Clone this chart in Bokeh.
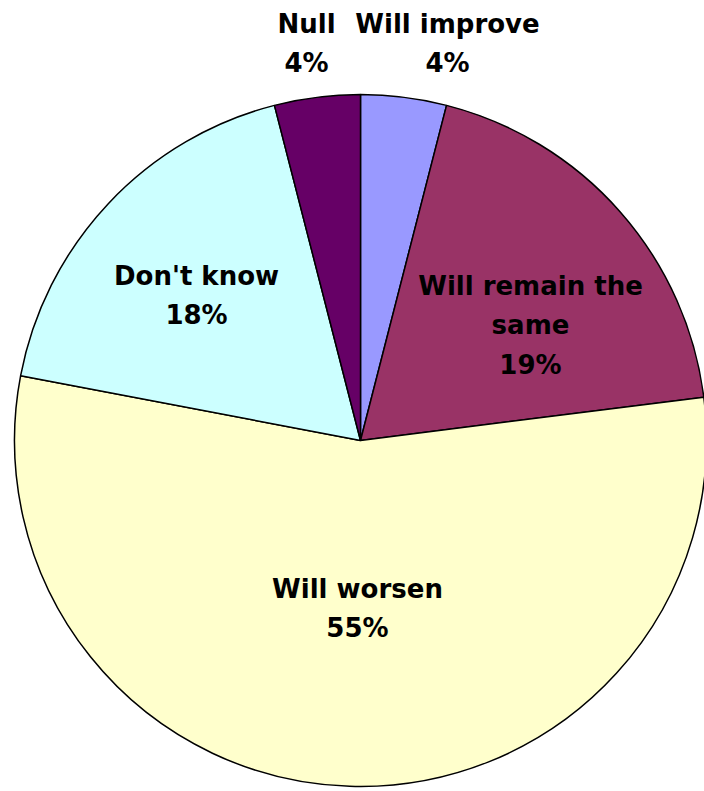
import math
from bokeh.plotting import figure
from bokeh.models import Range1d, ColumnDataSource
from bokeh.core.properties import value
from bokeh.embed import file_html
from bokeh.resources import INLINE

# ---- data ----
categories = ["Will improve", "Will remain the same", "Will worsen", "Don't know", "Null"]
percents = [4, 19, 55, 18, 4]
colors = ["#9999FF", "#993366", "#FFFFCC", "#CCFFFF", "#660066"]

# ---- layout (pixels in the picture) ----
W, H = 704, 791
cx_s, cy_s, R = 360, 440, 346
# label anchor: (center x, top of first line)
label_anchor = [(447, 8), (530, 270), (357, 573), (196, 260), (306, 8)]
label_lines = {"Will remain the same": "Will remain the\nsame"}

def sy(y):
    return H - y

total = sum(percents)
start, end = [], []
cum = 0.0
for v in percents:
    a0 = cum / total
    cum += v
    a1 = cum / total
    # clockwise from 12 o'clock
    start.append(math.pi / 2 - a1 * 2 * math.pi)
    end.append(math.pi / 2 - a0 * 2 * math.pi)

src = ColumnDataSource(dict(
    x=[cx_s] * len(percents), y=[sy(cy_s)] * len(percents),
    start=start, end=end, color=colors,
))

p = figure(width=W, height=H, output_backend="svg", toolbar_location=None,
           x_range=Range1d(0, W), y_range=Range1d(0, H),
           min_border=0)
p.axis.visible = False
p.grid.visible = False
p.outline_line_color = None
p.background_fill_color = "white"
p.border_fill_color = "white"

p.wedge(x="x", y="y", radius=R, start_angle="start", end_angle="end",
        fill_color="color", line_color="black", line_width=1.5, source=src)

texts = []
for c, v in zip(categories, percents):
    texts.append(f"{label_lines.get(c, c)}\n{v}%")
lsrc = ColumnDataSource(dict(
    x=[a[0] for a in label_anchor], y=[sy(a[1]) for a in label_anchor], t=texts))
p.text(x="x", y="y", text="t", source=lsrc, text_align="center",
       text_baseline="top", text_font=value("DejaVu Sans"), text_font_style="bold",
       text_font_size="26px", text_color="black", text_line_height=1.32)

open("out.html", "w").write(file_html(p, INLINE))
